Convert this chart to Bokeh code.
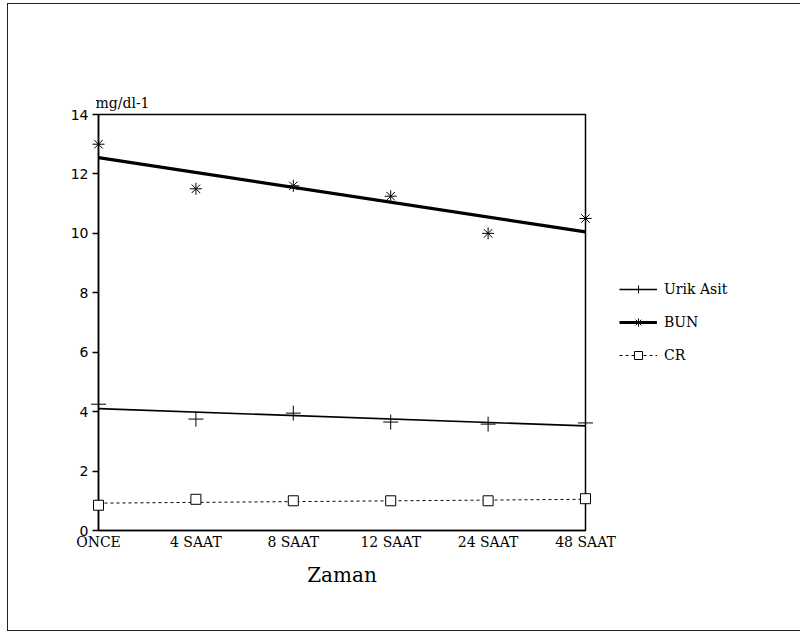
from bokeh.plotting import figure
from bokeh.models import Range1d, FixedTicker, Legend, LegendItem
from bokeh.embed import file_html
from bokeh.resources import INLINE

# ---- data ----
categories = ["ONCE", "4 SAAT", "8 SAAT", "12 SAAT", "24 SAAT", "48 SAAT"]
urik_asit = [4.25, 3.75, 3.95, 3.65, 3.58, 3.62]
bun = [13.0, 11.5, 11.6, 11.25, 10.0, 10.5]
cr = [0.85, 1.05, 1.0, 1.0, 1.0, 1.07]
# straight trend lines drawn in the chart (values at first and last time point)
trend_points = ["ONCE", "48 SAAT"]
urik_trend = [4.1, 3.52]
bun_trend = [12.55, 10.05]
cr_trend = [0.92, 1.05]
y_ticks = [0, 2, 4, 6, 8, 10, 12, 14]

xs = list(range(len(categories)))
txs = [categories.index(c) for c in trend_points]

SERIF = "DejaVu Serif"

p = figure(frame_width=487, frame_height=416, output_backend="svg", toolbar_location=None,
           x_range=Range1d(0, len(categories) - 1), y_range=Range1d(0, 14),
           min_border_left=90, min_border_right=205, min_border_top=110, min_border_bottom=100,
           background_fill_color="white", border_fill_color="white",
           styles={"border": "1px solid #222", "margin": "3px 0 0 7px"})

p.grid.visible = False
p.outline_line_color = "black"
p.outline_line_width = 1.5

# title used as the unit label
p.title.text = "mg/dl-1"
p.title.text_font = SERIF
p.title.text_font_style = "normal"
p.title.text_font_size = "14px"
p.title.text_color = "black"
p.title.align = "left"
p.title.offset = -3
p.title.standoff = 8

# x axis
xa = p.xaxis[0]
xa.ticker = FixedTicker(ticks=xs)
xa.major_label_overrides = {i: c for i, c in zip(xs, categories)}
xa.major_tick_line_color = None
xa.major_tick_in = 0
xa.major_tick_out = 0
xa.minor_tick_line_color = None
xa.axis_line_width = 1.5
xa.major_label_text_font = SERIF
xa.major_label_text_font_size = "14px"
xa.major_label_text_color = "black"
xa.major_label_standoff = 3
xa.axis_label = "Zaman"
xa.axis_label_text_font = SERIF
xa.axis_label_text_font_style = "normal"
xa.axis_label_text_font_size = "20px"
xa.axis_label_text_color = "black"
xa.axis_label_standoff = 10

# y axis
ya = p.yaxis[0]
ya.ticker = FixedTicker(ticks=y_ticks)
ya.minor_tick_line_color = None
ya.major_tick_in = 0
ya.major_tick_out = 6
ya.major_tick_line_width = 1.5
ya.axis_line_width = 1.5
ya.major_label_text_font = "DejaVu Sans"
ya.major_label_text_font_size = "14px"
ya.major_label_text_color = "black"
ya.major_label_standoff = 4

# series (markers drawn on the overlay level so the edge points are not clipped)
u_line = p.line(txs, urik_trend, line_color="black", line_width=1.6)
u_pts = p.scatter(xs, urik_asit, marker="cross", size=15, line_color="black", line_width=1, level="overlay")

b_line = p.line(txs, bun_trend, line_color="black", line_width=3.2)
b_pts = p.scatter(xs, bun, marker="asterisk", size=12, line_color="black", line_width=1, level="overlay")

c_line = p.line(txs, cr_trend, line_color="black", line_width=1, line_dash="3 3")
c_pts = p.scatter(xs, cr, marker="square", size=10, fill_color="white", line_color="black", line_width=1, level="overlay")

legend = Legend(items=[
    LegendItem(label="Urik Asit", renderers=[u_line, u_pts]),
    LegendItem(label="BUN", renderers=[b_line, b_pts]),
    LegendItem(label="CR", renderers=[c_line, c_pts]),
], location="center_left")
legend.border_line_color = None
legend.background_fill_alpha = 0
legend.label_text_font = SERIF
legend.label_text_font_size = "14px"
legend.label_text_color = "black"
legend.glyph_width = 38
legend.glyph_height = 20
legend.spacing = 13
legend.label_standoff = 7
legend.margin = 34
legend.padding = 5
p.add_layout(legend, "right")

open("out.html", "w").write(file_html(p, INLINE))
